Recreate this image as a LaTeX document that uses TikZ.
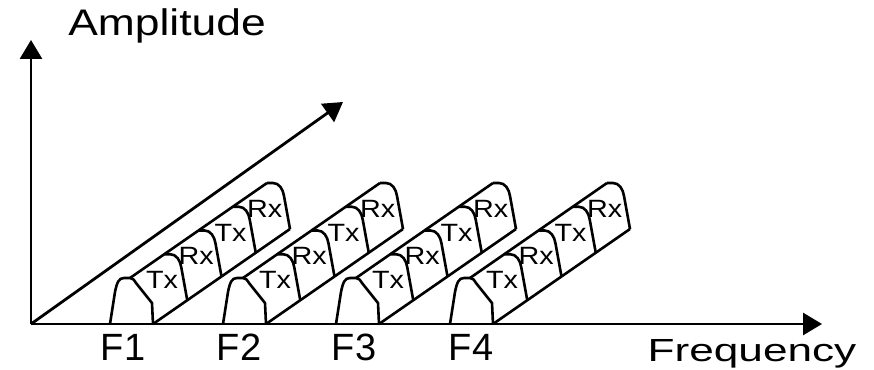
\documentclass[tikz,border=0pt]{standalone}
\usepackage{fontspec}
\setmainfont{Liberation Sans}
\usetikzlibrary{arrows.meta}
\newcommand{\wide}[2]{\scalebox{#1}[1]{#2}}
\tikzset{
  axis/.style={line width=2.8pt,-{Triangle[length=19pt,width=22pt]}},
  band/.style={line width=2.6pt,line join=round},
  chan/.style={inner sep=0pt,font=\fontsize{25}{25}\selectfont},
  flabel/.style={inner sep=0pt,anchor=base,font=\fontsize{38}{38}\selectfont},
  alabel/.style={inner sep=0pt,anchor=base,font=\fontsize{37}{37}\selectfont}
}
\begin{document}
\begin{tikzpicture}[x=1pt,y=1pt]
\useasboundingbox (0,0) rectangle (874,369);
\coordinate (O) at (31,45);
\coordinate (ytip) at (31,329);
\coordinate (xtip) at (822,45);
\coordinate (ztip) at (343,267);
% axes
\draw[axis] (O)--(ytip);
\draw[axis] (O)--(xtip);
\draw[axis] (O)--(ztip);
\node[alabel] (amp) at (167,333) {\wide{1.2}{Amplitude}};
\node[alabel,font=\fontsize{32}{32}\selectfont] (freq) at (752,8) {\wide{1.38}{Frequency}};
% one band per carrier
\foreach \i/\x/\fx in {1/110/123,2/223/239,3/336/354,4/450/471}{
  \begin{scope}[shift={(\x,45)}]
    \draw[band] (0,0)--(5,32) .. controls (7,42) and (9,46) .. (14,46)--(20,46)
      .. controls (23,46) and (24,44) .. (26,41)--(42,21)--(43,0);
    \draw[band] (43,0)--(180,95);
    \draw[band] (20,46)--(157,141);
    \foreach \k in {1,2,3,4}{
      \draw[band] (20+34.25*\k,46+23.75*\k)--++(6,0) .. controls +(6,0) and +(-1,7) .. ++(11,-13)--++(6,-33);
    }
    \foreach \k/\t in {0/Tx,1/Rx,2/Tx,3/Rx}{
      \node[chan] (c\i\k) at (52+34.25*\k,44+23.75*\k) {\wide{1.15}{\t}};
    }
  \end{scope}
  \node[flabel] (f\i) at (\fx,9) {F\i};
}
\end{tikzpicture}
\end{document}
